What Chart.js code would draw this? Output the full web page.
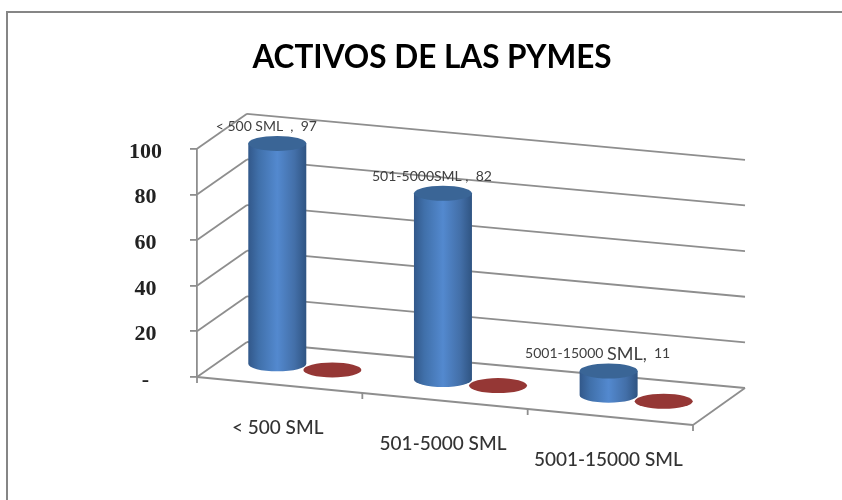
<!DOCTYPE html>
<html lang="es">
<head>
  <meta charset="UTF-8">
  <title>Activos de las PYMES</title>
  <script src="https://cdn.jsdelivr.net/npm/chart.js"></script>
  <style>
    html, body { margin: 0; padding: 0; background: #fff; overflow: hidden; }
    #wrap { position: relative; width: 842px; height: 500px; }
    #frame { position: absolute; left: 6px; top: 11px; right: -4px; bottom: -4px; border: 2px solid #868686; }
    canvas { position: absolute; left: 0; top: 0; }
  </style>
</head>
<body>
  <div id="wrap">
    <div id="frame"></div>
    <canvas id="activosChart" width="842" height="500"></canvas>
  </div>

  <script>
    const categories = ["< 500 SML", "501-5000 SML", "5001-15000 SML"];
    const activos = [97, 82, 11];
    const otros = [0, 0, 0];
    const yTicks = [0, 20, 40, 60, 80, 100];
    // the third label has a bigger "SML," in the original
    const dataLabels = [
      [["< 500 SML  ,  97", false]],
      [["501-5000SML ,  82", false]],
      [["5001-15000 ", false], ["SML,", true], ["  11", false]]
    ];

    const GRAY = "#8e8e8e";
    const SLOPE = 0.0968;   // floor front edge falls to the right
    const BAR_DEPTH = 0.5;

    // fake 3D: shear the flat chart area and push it back by depth d (0..1)
    function project(xs, px, py, d) {
      const t = (px - xs.left) / xs.width;
      return {
        x: px + d * (50 + 2 * t),
        y: py + (px - xs.left) * SLOPE - d * (35 + 2 * t)
      };
    }

    function line(ctx, a, b) {
      ctx.beginPath();
      ctx.moveTo(a.x, a.y);
      ctx.lineTo(b.x, b.y);
      ctx.stroke();
    }

    function ellipse(ctx, cx, cy, rx, ry, fill) {
      ctx.fillStyle = fill;
      ctx.beginPath();
      ctx.ellipse(cx, cy, rx, ry, 0, 0, Math.PI * 2);
      ctx.fill();
    }

    function drawCylinder(ctx, xs, bar, colors) {
      const rx = bar.width / 2;
      const ry = 7.5;
      const top = project(xs, bar.x, bar.y, BAR_DEPTH);
      const bottom = project(xs, bar.x, bar.base, BAR_DEPTH);

      if (bar.base - bar.y > 0.5) {
        const grad = ctx.createLinearGradient(top.x - rx, 0, top.x + rx, 0);
        grad.addColorStop(0, "#32588a");
        grad.addColorStop(0.18, "#4070aa");
        grad.addColorStop(0.5, "#5389cf");
        grad.addColorStop(0.8, "#436fa8");
        grad.addColorStop(1, "#2f5482");
        ctx.fillStyle = grad;
        ctx.beginPath();
        ctx.moveTo(top.x - rx, top.y);
        ctx.lineTo(bottom.x - rx, bottom.y);
        ctx.ellipse(bottom.x, bottom.y, rx, ry, 0, Math.PI, 0, true);
        ctx.lineTo(top.x + rx, top.y);
        ctx.closePath();
        ctx.fill();
      }
      ellipse(ctx, top.x, top.y, rx, ry, colors);
    }

    const wallsPlugin = {
      id: "walls",
      // the title is centred over the whole plot, not over the padded box
      afterLayout(chart) {
        chart.titleBlock.left = 171;
      },
      beforeDatasetsDraw(chart) {
        const { ctx, scales: { x, y } } = chart;
        ctx.save();
        ctx.strokeStyle = GRAY;
        ctx.lineWidth = 1.8;

        y.ticks.forEach((tick, i) => {
          const py = y.getPixelForTick(i);
          const back = project(x, x.left, py, 1);
          line(ctx, project(x, x.left, py, 0), back);
          line(ctx, back, project(x, x.right, py, 1));
        });

        // floor edges
        const f0 = project(x, x.left, y.bottom, 0);
        const f1 = project(x, x.right, y.bottom, 0);
        line(ctx, f0, f1);
        line(ctx, f1, project(x, x.right, y.bottom, 1));

        // category separators under the floor
        categories.concat("").forEach((c, i) => {
          const p = project(x, x.getPixelForValue(i - 0.5), y.bottom, 0);
          line(ctx, p, { x: p.x, y: p.y + 6 });
        });
        ctx.restore();
      },
      afterDatasetsDraw(chart) {
        const { ctx, scales: { x, y } } = chart;
        const blue = chart.getDatasetMeta(0).data;
        const red = chart.getDatasetMeta(1).data;
        ctx.save();

        categories.forEach((c, i) => {
          drawCylinder(ctx, x, blue[i], "#3a6596");
          drawCylinder(ctx, x, red[i], "#953735");
        });

        // category labels follow the floor edge
        ctx.font = "500 19px Lato";
        ctx.fillStyle = "#333";
        ctx.textAlign = "center";
        ctx.textBaseline = "middle";
        categories.forEach((c, i) => {
          const p = project(x, x.getPixelForValue(i), y.bottom, 0);
          ctx.fillText(c, p.x - 2, p.y + 43);
        });

        // data labels above each blue cylinder
        ctx.textAlign = "left";
        ctx.fillStyle = "#404040";
        dataLabels.forEach((parts, i) => {
          const top = project(x, blue[i].x, blue[i].y, BAR_DEPTH);
          const fontOf = big => (big ? "18px Lato" : "14px Lato");
          let width = 0;
          parts.forEach(([text, big]) => {
            ctx.font = fontOf(big);
            width += ctx.measureText(text).width;
          });
          let cx = top.x - 11 - width / 2;
          parts.forEach(([text, big]) => {
            ctx.font = fontOf(big);
            ctx.fillText(text, cx, top.y - 17);
            cx += ctx.measureText(text).width;
          });
        });
        ctx.restore();
      }
    };

    new Chart(document.getElementById("activosChart"), {
      type: "bar",
      data: {
        labels: categories,
        datasets: [
          { label: "Activos", data: activos, backgroundColor: "transparent", categoryPercentage: 0.665, barPercentage: 1.055 },
          { label: "Otros", data: otros, backgroundColor: "transparent", categoryPercentage: 0.665, barPercentage: 1.055 }
        ]
      },
      plugins: [wallsPlugin],
      options: {
        responsive: false,
        animation: false,
        events: [],
        layout: { padding: { left: 0, right: 149, top: 0, bottom: 115 } },
        plugins: {
          legend: { display: false },
          tooltip: { enabled: false },
          title: {
            display: true,
            text: "ACTIVOS DE LAS PYMES",
            color: "#000",
            font: { family: "Lato", size: 31.5, weight: "bold", lineHeight: 1.2 },
            padding: { top: 39, bottom: 72 }
          }
        },
        scales: {
          x: {
            ticks: { display: false },
            grid: { display: false },
            border: { display: false }
          },
          y: {
            min: 0,
            max: 100,
            afterFit(scale) { scale.width = 197; },
            afterBuildTicks(scale) { scale.ticks = yTicks.map(v => ({ value: v })); },
            border: { display: true, color: GRAY, width: 1.8 },
            grid: { drawOnChartArea: false, color: GRAY, lineWidth: 1.8, tickLength: 7 },
            ticks: {
              crossAlign: "center",
              padding: 28,
              color: "#222",
              // blank first line nudges the number a little below its tick
              font: { family: "Liberation Serif", size: 22, weight: "bold", lineHeight: 0.3 },
              callback: v => ["", v === 0 ? "-" : String(v)]
            }
          }
        }
      }
    });
  </script>
</body>
</html>
